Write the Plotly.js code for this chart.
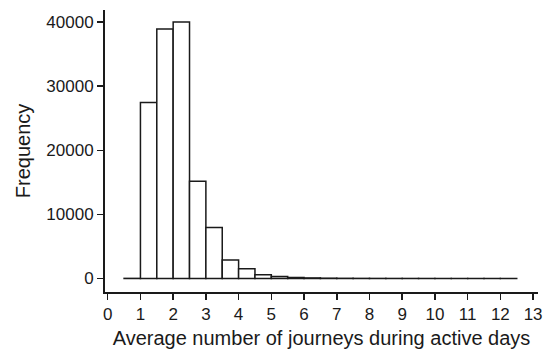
<!DOCTYPE html>
<html>
<head>
<meta charset="utf-8">
<script src="https://cdn.plot.ly/plotly-3.0.1.min.js"></script>
<style>html,body{margin:0;padding:0;background:#fff;}#chart{width:547px;height:349px;}</style>
</head>
<body>
<div id="chart"></div>
<script>
// Histogram bins (lower edges), bin width 0.5
var binStarts = [0.5, 1.0, 1.5, 2.0, 2.5, 3.0, 3.5, 4.0, 4.5, 5.0, 5.5, 6.0,
                 6.5, 7.0, 7.5, 8.0, 8.5, 9.0, 9.5, 10.0, 10.5, 11.0, 11.5, 12.0];
var binWidth = 0.5;
var frequency = [20, 27450, 38900, 40000, 15150, 7950, 2900, 1520, 600, 320, 160, 90,
                 50, 30, 20, 15, 10, 8, 6, 4, 3, 2, 2, 1];
var xTicks = [0,1,2,3,4,5,6,7,8,9,10,11,12,13];
var yTicks = [0, 10000, 20000, 30000, 40000];

var centers = binStarts.map(function(s){ return s + binWidth/2; });

var trace = {
  type: 'bar',
  x: centers,
  y: frequency,
  width: binWidth,
  marker: {color: '#ffffff', line: {color: '#1a1a1a', width: 1.5}},
  hoverinfo: 'none'
};

var font = "'Liberation Sans', Arial, Helvetica, sans-serif";
var layout = {
  width: 547, height: 349,
  margin: {l: 105, r: 9, t: 10, b: 57},
  paper_bgcolor: '#fff', plot_bgcolor: '#fff',
  showlegend: false,
  bargap: 0,
  font: {family: font, size: 17, color: '#1a1a1a'},
  xaxis: {
    range: [-0.083, 13.15],
    tickvals: xTicks, ticktext: xTicks.map(String),
    ticks: 'outside', ticklen: 6, tickwidth: 1.5, tickcolor: '#1a1a1a',
    showline: true, linewidth: 2, linecolor: '#1a1a1a',
    showgrid: false, zeroline: false,
    tickfont: {size: 17},
    title: {text: 'Average number of journeys during active days', font: {size: 20}, standoff: 8}
  },
  yaxis: {
    range: [-2105, 41870],
    tickvals: yTicks, ticktext: yTicks.map(String),
    ticks: 'outside', ticklen: 6, tickwidth: 1.5, tickcolor: '#1a1a1a',
    showline: true, linewidth: 2, linecolor: '#1a1a1a',
    showgrid: false, zeroline: false,
    tickfont: {size: 17},
    title: {text: 'Frequency', font: {size: 20}, standoff: 10}
  }
};

Plotly.newPlot('chart', [trace], layout, {displayModeBar: false, staticPlot: true});
</script>
</body>
</html>
